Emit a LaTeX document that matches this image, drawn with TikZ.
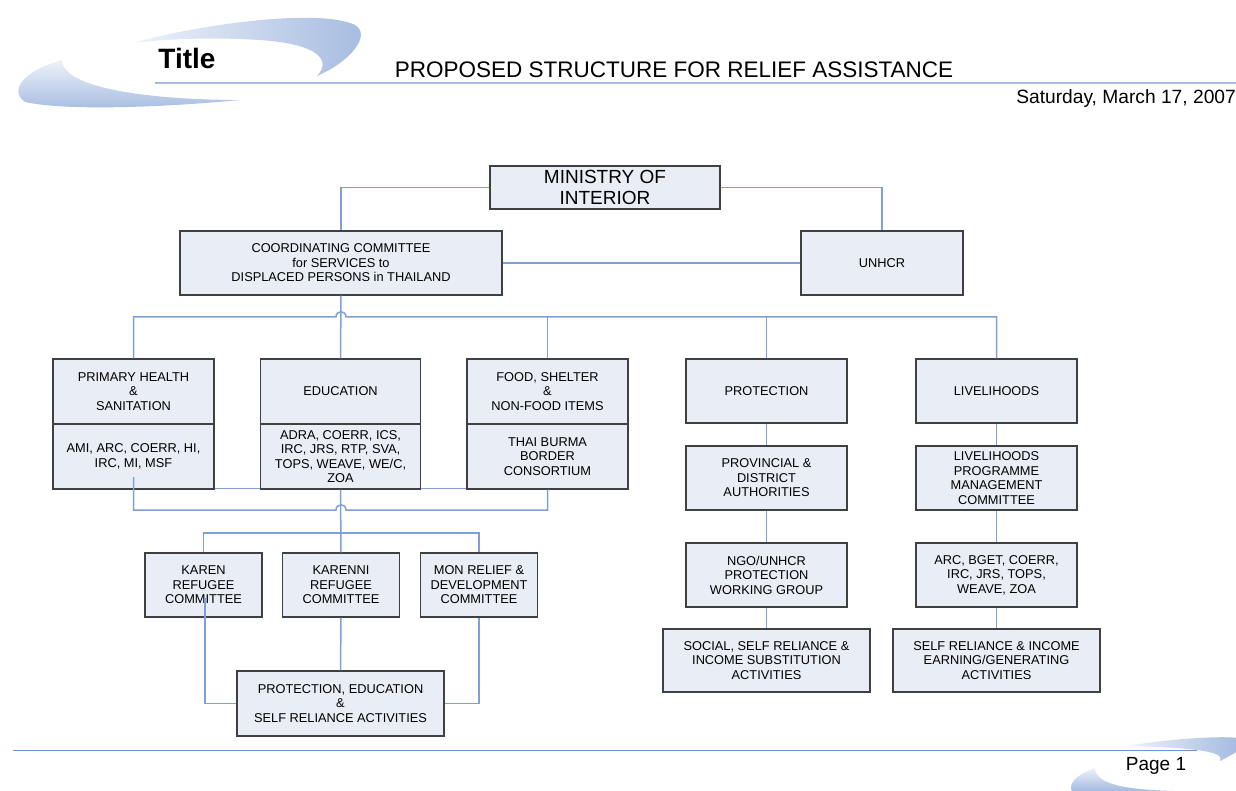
\documentclass[tikz,border=0pt]{standalone}
\usepackage{fontspec}
\setmainfont{Liberation Sans}
\usetikzlibrary{backgrounds}
\definecolor{boxfill}{HTML}{E9EDF5}
\definecolor{boxline}{HTML}{404040}
\definecolor{conncol}{HTML}{7FA0D6}
\definecolor{hline}{HTML}{A4BCE2}
\definecolor{bline}{HTML}{6F92D2}
\definecolor{swA}{HTML}{EEF2FA}
\definecolor{swB}{HTML}{A3BAE0}
\begin{document}
\begin{tikzpicture}[x=1pt,y=-1pt,
  box/.style={draw=boxline, fill=boxfill, line width=1.3pt, align=center, inner sep=0pt,
    font=\fontsize{12.8}{14.5}\selectfont},
  wbox/.style={box, minimum width=161pt, minimum height=64pt},
  sbox/.style={box, minimum width=117pt, minimum height=64pt},
  lbox/.style={box, minimum width=207pt, minimum height=64pt},
  conn/.style={draw=conncol, line width=1.5pt},
]
\useasboundingbox (0,0) rectangle (1236,791);

% header decoration
\shade[left color=swA, right color=swB] (133,43) .. controls (200,24) and (320,8) .. (355,25)
  .. controls (372,35) and (350,62) .. (317,76) .. controls (332,60) and (318,44) .. (260,40)
  .. controls (210,37) and (165,39) .. (133,43) -- cycle;
\shade[top color=swA, bottom color=swB] (62,60) .. controls (25,70) and (8,90) .. (25,102)
  .. controls (70,112) and (180,106) .. (240,100) .. controls (160,100) and (62,90) .. (62,60) -- cycle;
\draw[hline, line width=2pt] (155,83) -- (1236,83);
\node[font=\fontsize{28}{30}\bfseries\selectfont] (title) at (187,58) {Title};
\node[font=\fontsize{22.5}{24}\selectfont] (head) at (674,70) {PROPOSED STRUCTURE FOR RELIEF ASSISTANCE};
\node[font=\fontsize{19.2}{21}\selectfont, anchor=east, inner sep=0pt] (date) at (1236,99) {Saturday, March 17, 2007};

% footer
\shade[left color=swA, right color=swB] (1128,746) .. controls (1170,738) and (1236,735) .. (1240,739)
  -- (1240,750) .. controls (1236,752) and (1228,757) .. (1220,761)
  .. controls (1225,752) and (1200,748) .. (1128,746) -- cycle;
\shade[top color=swA, bottom color=swB] (1095,768) .. controls (1075,775) and (1068,785) .. (1072,791)
  -- (1175,791) .. controls (1130,790) and (1095,785) .. (1095,768) -- cycle;
\draw[bline, line width=1pt] (13,750) -- (1197,750);
\node[font=\fontsize{19}{21}\selectfont] (page) at (1156,766) {Page 1};

% boxes
\node[box, minimum width=230pt, minimum height=43pt, font=\fontsize{19}{21}\selectfont] (mi) at (605,187.5) {MINISTRY OF\\INTERIOR};
\node[box, minimum width=322pt, minimum height=64pt] (cc) at (341,263) {COORDINATING COMMITTEE\\for SERVICES to\\DISPLACED PERSONS in THAILAND};
\node[box, minimum width=162pt, minimum height=64pt] (unhcr) at (882,263) {UNHCR};

\node[wbox, minimum height=65pt] (ph) at (133.5,391.5) {PRIMARY HEALTH\\\&\\SANITATION};
\node[wbox, minimum height=65pt] (phl) at (133.5,456.5) {AMI, ARC, COERR, HI,\\IRC, MI, MSF};
\node[wbox, minimum width=160pt, minimum height=65pt] (edu) at (340.5,391.5) {EDUCATION};
\node[wbox, minimum width=160pt, minimum height=65pt] (edul) at (340.5,456.5) {ADRA, COERR, ICS,\\IRC, JRS, RTP, SVA,\\TOPS, WEAVE, WE/C,\\ZOA};
\node[wbox, minimum height=65pt] (food) at (547.5,391.5) {FOOD, SHELTER\\\&\\NON-FOOD ITEMS};
\node[wbox, minimum height=65pt] (foodl) at (547.5,456.5) {THAI BURMA\\BORDER\\CONSORTIUM};

\node[sbox] (karen) at (203.5,585) {KAREN\\REFUGEE\\COMMITTEE};
\node[sbox] (karenni) at (341,585) {KARENNI\\REFUGEE\\COMMITTEE};
\node[sbox] (mon) at (479,585) {MON RELIEF \&\\DEVELOPMENT\\COMMITTEE};
\node[lbox, minimum height=65pt] (pe) at (340.5,703.5) {PROTECTION, EDUCATION\\\&\\SELF RELIANCE ACTIVITIES};

\node[wbox] (prot) at (766.5,391) {PROTECTION};
\node[wbox] (prov) at (766.5,478) {PROVINCIAL \&\\DISTRICT\\AUTHORITIES};
\node[wbox] (ngo) at (766.5,575) {NGO/UNHCR\\PROTECTION\\WORKING GROUP};
\node[lbox, minimum height=63pt] (social) at (766.5,660.5) {SOCIAL, SELF RELIANCE \&\\INCOME SUBSTITUTION\\ACTIVITIES};

\node[wbox] (live) at (996.5,391) {LIVELIHOODS};
\node[wbox] (lpmc) at (996.5,478) {LIVELIHOODS\\PROGRAMME\\MANAGEMENT\\COMMITTEE};
\node[wbox] (arc) at (996.5,575) {ARC, BGET, COERR,\\IRC, JRS, TOPS,\\WEAVE, ZOA};
\node[lbox, minimum height=63pt] (self) at (996.5,660.5) {SELF RELIANCE \& INCOME\\EARNING/GENERATING\\ACTIVITIES};

% helper coordinates
\coordinate (j1a) at (336,317);
\coordinate (j1b) at (346,317);
\coordinate (j2a) at (336,510);
\coordinate (j2b) at (346,510);
\coordinate (phin) at (133.5,477);
\coordinate (kbus) at (341,533);
\coordinate (kin) at (205,598);

% connectors behind boxes
\begin{scope}[on background layer]
  \draw[conn] ([yshift=1pt]phl.south) -- ([yshift=1pt]foodl.south);
\end{scope}

% connectors
\draw[conn] (mi.west) -| (cc.north);
\draw[conn] (mi.east) -| (unhcr.north);
\draw[conn] (cc.east) -- (unhcr.west);
\draw[conn] (cc.south) -- (edu.north);
\draw[conn] (ph.north) |- (j1a) .. controls +(0,-7) and +(0,-7) .. (j1b) -| (live.north);
\draw[conn] (food.north) -- (food.north |- j1b);
\draw[conn] (prot.north) -- (prot.north |- j1b);

\draw[conn] (phin) |- (j2a) .. controls +(0,-7) and +(0,-7) .. (j2b) -| (foodl.south);
\draw[conn] (edul.south) -- (karenni.north);
\draw[conn] (karen.north) |- (kbus) -| (mon.north);
\draw[conn] (karenni.south) -- (pe.north);
\draw[conn] (kin) |- (pe.west);
\draw[conn] (mon.south) |- (pe.east);

\draw[conn] (prot.south) -- (prov.north);
\draw[conn] (prov.south) -- (ngo.north);
\draw[conn] (ngo.south) -- (social.north);
\draw[conn] (live.south) -- (lpmc.north);
\draw[conn] (lpmc.south) -- (arc.north);
\draw[conn] (arc.south) -- (self.north);
\end{tikzpicture}
\end{document}
